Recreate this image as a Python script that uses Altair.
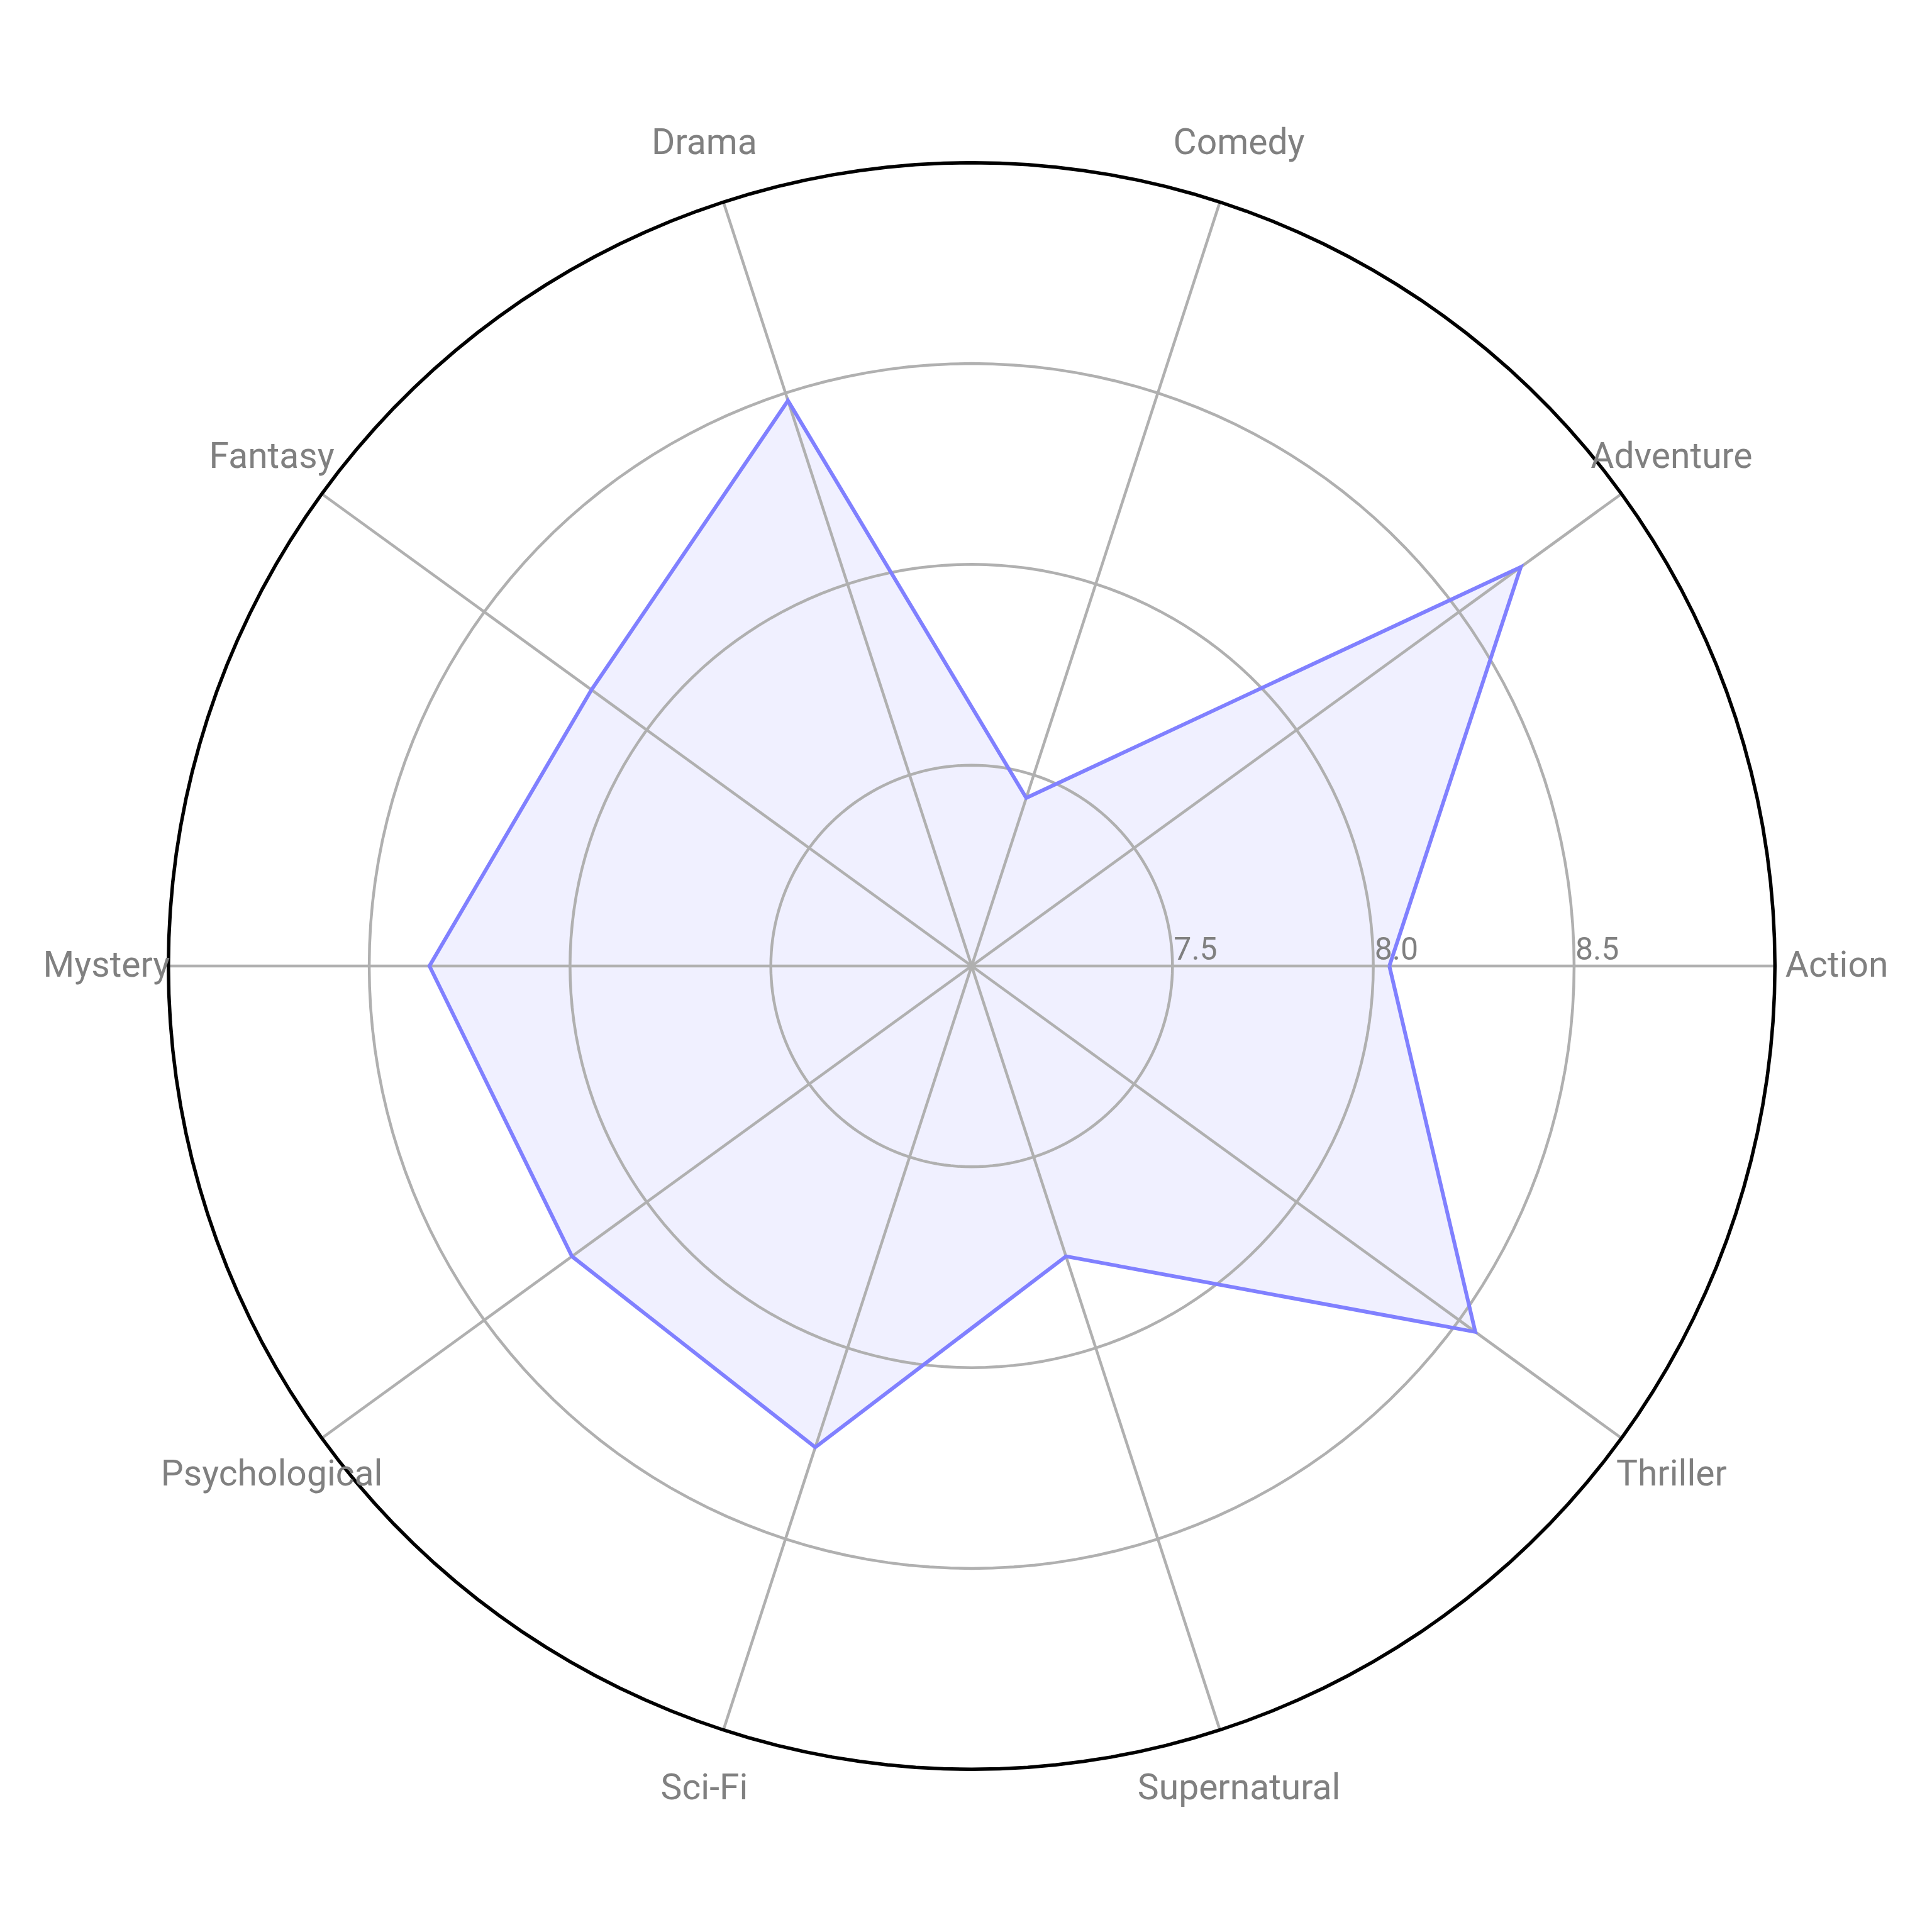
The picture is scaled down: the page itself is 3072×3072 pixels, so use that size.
import altair as alt
import pandas as pd

categories = ["Action", "Adventure", "Comedy", "Drama", "Fantasy", "Mystery",
              "Psychological", "Sci-Fi", "Supernatural", "Thriller"]
ratings = [8.04, 8.69, 7.44, 8.48, 8.17, 8.35, 8.23, 8.26, 7.76, 8.55]
grid_values = [7.5, 8.0, 8.5]
tick_labels = ["7.5", "8.0", "8.5"]
r_min = 7.0
r_max = 9.0

n = len(categories)
poly = pd.DataFrame({
    "category": [categories[i % n] for i in range(n + 1)],
    "rating": [ratings[i % n] for i in range(n + 1)],
    "idx": list(range(n + 1)),
})
cats = pd.DataFrame({"category": categories, "idx": list(range(n))})
rings = pd.DataFrame({"ring": grid_values, "label": tick_labels})
outer = pd.DataFrame({"ring": [r_max]})

D = 2.33
xs = alt.Scale(domain=[-D, D], nice=False, zero=False)
ys = alt.Scale(domain=[-D, D], nice=False, zero=False)

GRID = "#b0b0b0"
TXT = "#808080"
LINE = "#8080ff"
FONT = "Roboto"
ang = f"datum.idx * 2 * PI / {n}"


def X(f):
    return alt.X(f"{f}:Q", scale=xs, axis=None)


def Y(f):
    return alt.Y(f"{f}:Q", scale=ys, axis=None)


base_poly = alt.Chart(poly).transform_calculate(
    th=ang, rr=f"datum.rating - {r_min}"
).transform_calculate(
    px="datum.rr * cos(datum.th)", py="datum.rr * sin(datum.th)"
)

fill = base_poly.mark_line(
    fill=LINE, fillOpacity=0.12, strokeOpacity=0, stroke=LINE
).encode(x=X("px"), y=Y("py"), order=alt.Order("idx:Q"))

line = base_poly.mark_line(
    color=LINE, strokeWidth=6, strokeJoin="miter"
).encode(x=X("px"), y=Y("py"), order=alt.Order("idx:Q"))


def circle(df, color, width):
    return alt.Chart(df).transform_calculate(
        a="sequence(0, 362, 2)"
    ).transform_flatten(["a"]).transform_calculate(
        cx=f"(datum.ring - {r_min}) * cos(datum.a * PI / 180)",
        cy=f"(datum.ring - {r_min}) * sin(datum.a * PI / 180)",
    ).mark_line(color=color, strokeWidth=width).encode(
        x=X("cx"), y=Y("cy"), detail="ring:N", order=alt.Order("a:Q")
    )


grid_rings = circle(rings, GRID, 4.5)
outer_ring = circle(outer, "black", 5.5)

spokes = alt.Chart(cats).transform_calculate(
    th=ang, x0="0", y0="0"
).transform_calculate(
    sx=f"{r_max - r_min} * cos(datum.th)", sy=f"{r_max - r_min} * sin(datum.th)"
).mark_rule(color=GRID, strokeWidth=4.5).encode(
    x=X("x0"), y=Y("y0"), x2="sx:Q", y2="sy:Q"
)

ticks = alt.Chart(rings).transform_calculate(
    tx=f"datum.ring - {r_min}", ty="0"
).mark_text(
    align="left", baseline="alphabetic", dx=2, dy=-10,
    font=FONT, fontSize=50, color=TXT
).encode(x=X("tx"), y=Y("ty"), text="label:N")

labels = alt.Chart(cats).transform_calculate(
    th=ang
).transform_calculate(
    lx=f"{(r_max - r_min) * 1.077} * cos(datum.th)",
    ly=f"{(r_max - r_min) * 1.077} * sin(datum.th)",
).mark_text(
    align="center", baseline="middle", font=FONT, fontSize=57, color=TXT
).encode(x=X("lx"), y=Y("ly"), text="category:N")

chart = alt.layer(
    fill, grid_rings, spokes, outer_ring, ticks, line, labels
).properties(
    width=2976, height=2976,
    padding={"left": 49, "top": 40, "right": 0, "bottom": 0},
    autosize=alt.AutoSizeParams(type="none"),
    background="white",
).configure_view(stroke=None)

chart.save("out.html", embed_options={"renderer": "svg", "actions": False})
